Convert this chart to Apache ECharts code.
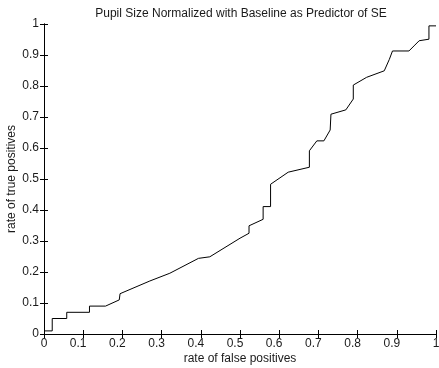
<!DOCTYPE html>
<html>
<head>
<meta charset="utf-8">
<script src="https://cdn.jsdelivr.net/npm/echarts@6/dist/echarts.min.js"></script>
<style>
html,body{margin:0;padding:0;background:#fff;}
#chart{width:439px;height:368px;}
</style>
</head>
<body>
<div id="chart"></div>
<script>
const titleText = "Pupil Size Normalized with Baseline as Predictor of SE";
const xName = "rate of false positives";
const yName = "rate of true positives";
const falsePositiveRate = [0, 0.021, 0.021, 0.058, 0.058, 0.116, 0.116, 0.157, 0.192, 0.194, 0.270, 0.321, 0.394, 0.423, 0.500, 0.523, 0.523, 0.559, 0.559, 0.578, 0.578, 0.623, 0.677, 0.677, 0.696, 0.714, 0.730, 0.732, 0.770, 0.789, 0.789, 0.823, 0.868, 0.881, 0.889, 0.931, 0.946, 0.957, 0.982, 0.982, 1.0];
const truePositiveRate = [0.01, 0.01, 0.05, 0.05, 0.07, 0.07, 0.09, 0.09, 0.11, 0.13, 0.171, 0.196, 0.244, 0.249, 0.309, 0.325, 0.349, 0.370, 0.411, 0.411, 0.483, 0.522, 0.538, 0.591, 0.623, 0.623, 0.658, 0.709, 0.723, 0.758, 0.803, 0.828, 0.849, 0.886, 0.913, 0.913, 0.932, 0.946, 0.951, 0.994, 0.994];

const points = falsePositiveRate.map((x, i) => [x, truePositiveRate[i]]);
const font = "'Liberation Sans', Arial, sans-serif";
const textColor = '#1a1a1a';

const baseAxis = {
  type: 'value', min: 0, max: 1, interval: 0.1,
  axisLine: { show: true, lineStyle: { color: '#000', width: 1 } },
  axisTick: { show: true, inside: true, length: 4, lineStyle: { color: '#000' } },
  splitLine: { show: false }
};

const chart = echarts.init(document.getElementById('chart'), null, { renderer: 'canvas' });
chart.setOption({
  backgroundColor: '#fff',
  animation: false,
  title: {
    text: titleText, left: 236, top: 3, textAlign: 'center',
    textStyle: { fontFamily: font, fontSize: 12, fontWeight: 'normal', color: textColor }
  },
  grid: { left: 44, right: 3, top: 24, bottom: 34, containLabel: false, outerBoundsMode: 'none' },
  xAxis: [
    Object.assign({}, baseAxis, {
      position: 'bottom', name: xName, nameLocation: 'middle', nameGap: 19, nameMoveOverlap: false,
      nameTextStyle: { fontFamily: font, fontSize: 12, color: textColor },
      axisLabel: {
        fontFamily: font, fontSize: 12, color: textColor, margin: 4,
        formatter: v => (v === 0 || v === 1) ? String(v) : '{d|' + v + '}',
        rich: { d: { fontFamily: font, fontSize: 12, color: textColor, padding: [0, 10, 0, 0] } }
      }
    }),
    Object.assign({}, baseAxis, { position: 'top', axisLabel: { show: false } })
  ],
  yAxis: [
    Object.assign({}, baseAxis, {
      position: 'left', name: yName, nameLocation: 'middle', nameGap: 26, nameMoveOverlap: false,
      nameTextStyle: { fontFamily: font, fontSize: 12, color: textColor },
      axisLabel: { fontFamily: font, fontSize: 12, color: textColor, margin: 5 }
    }),
    Object.assign({}, baseAxis, { position: 'right', axisLabel: { show: false } })
  ],
  series: [{
    type: 'line', data: points, xAxisIndex: 0, yAxisIndex: 0,
    showSymbol: false, symbol: 'none',
    lineStyle: { color: '#000', width: 1 }
  }]
});
</script>
</body>
</html>
